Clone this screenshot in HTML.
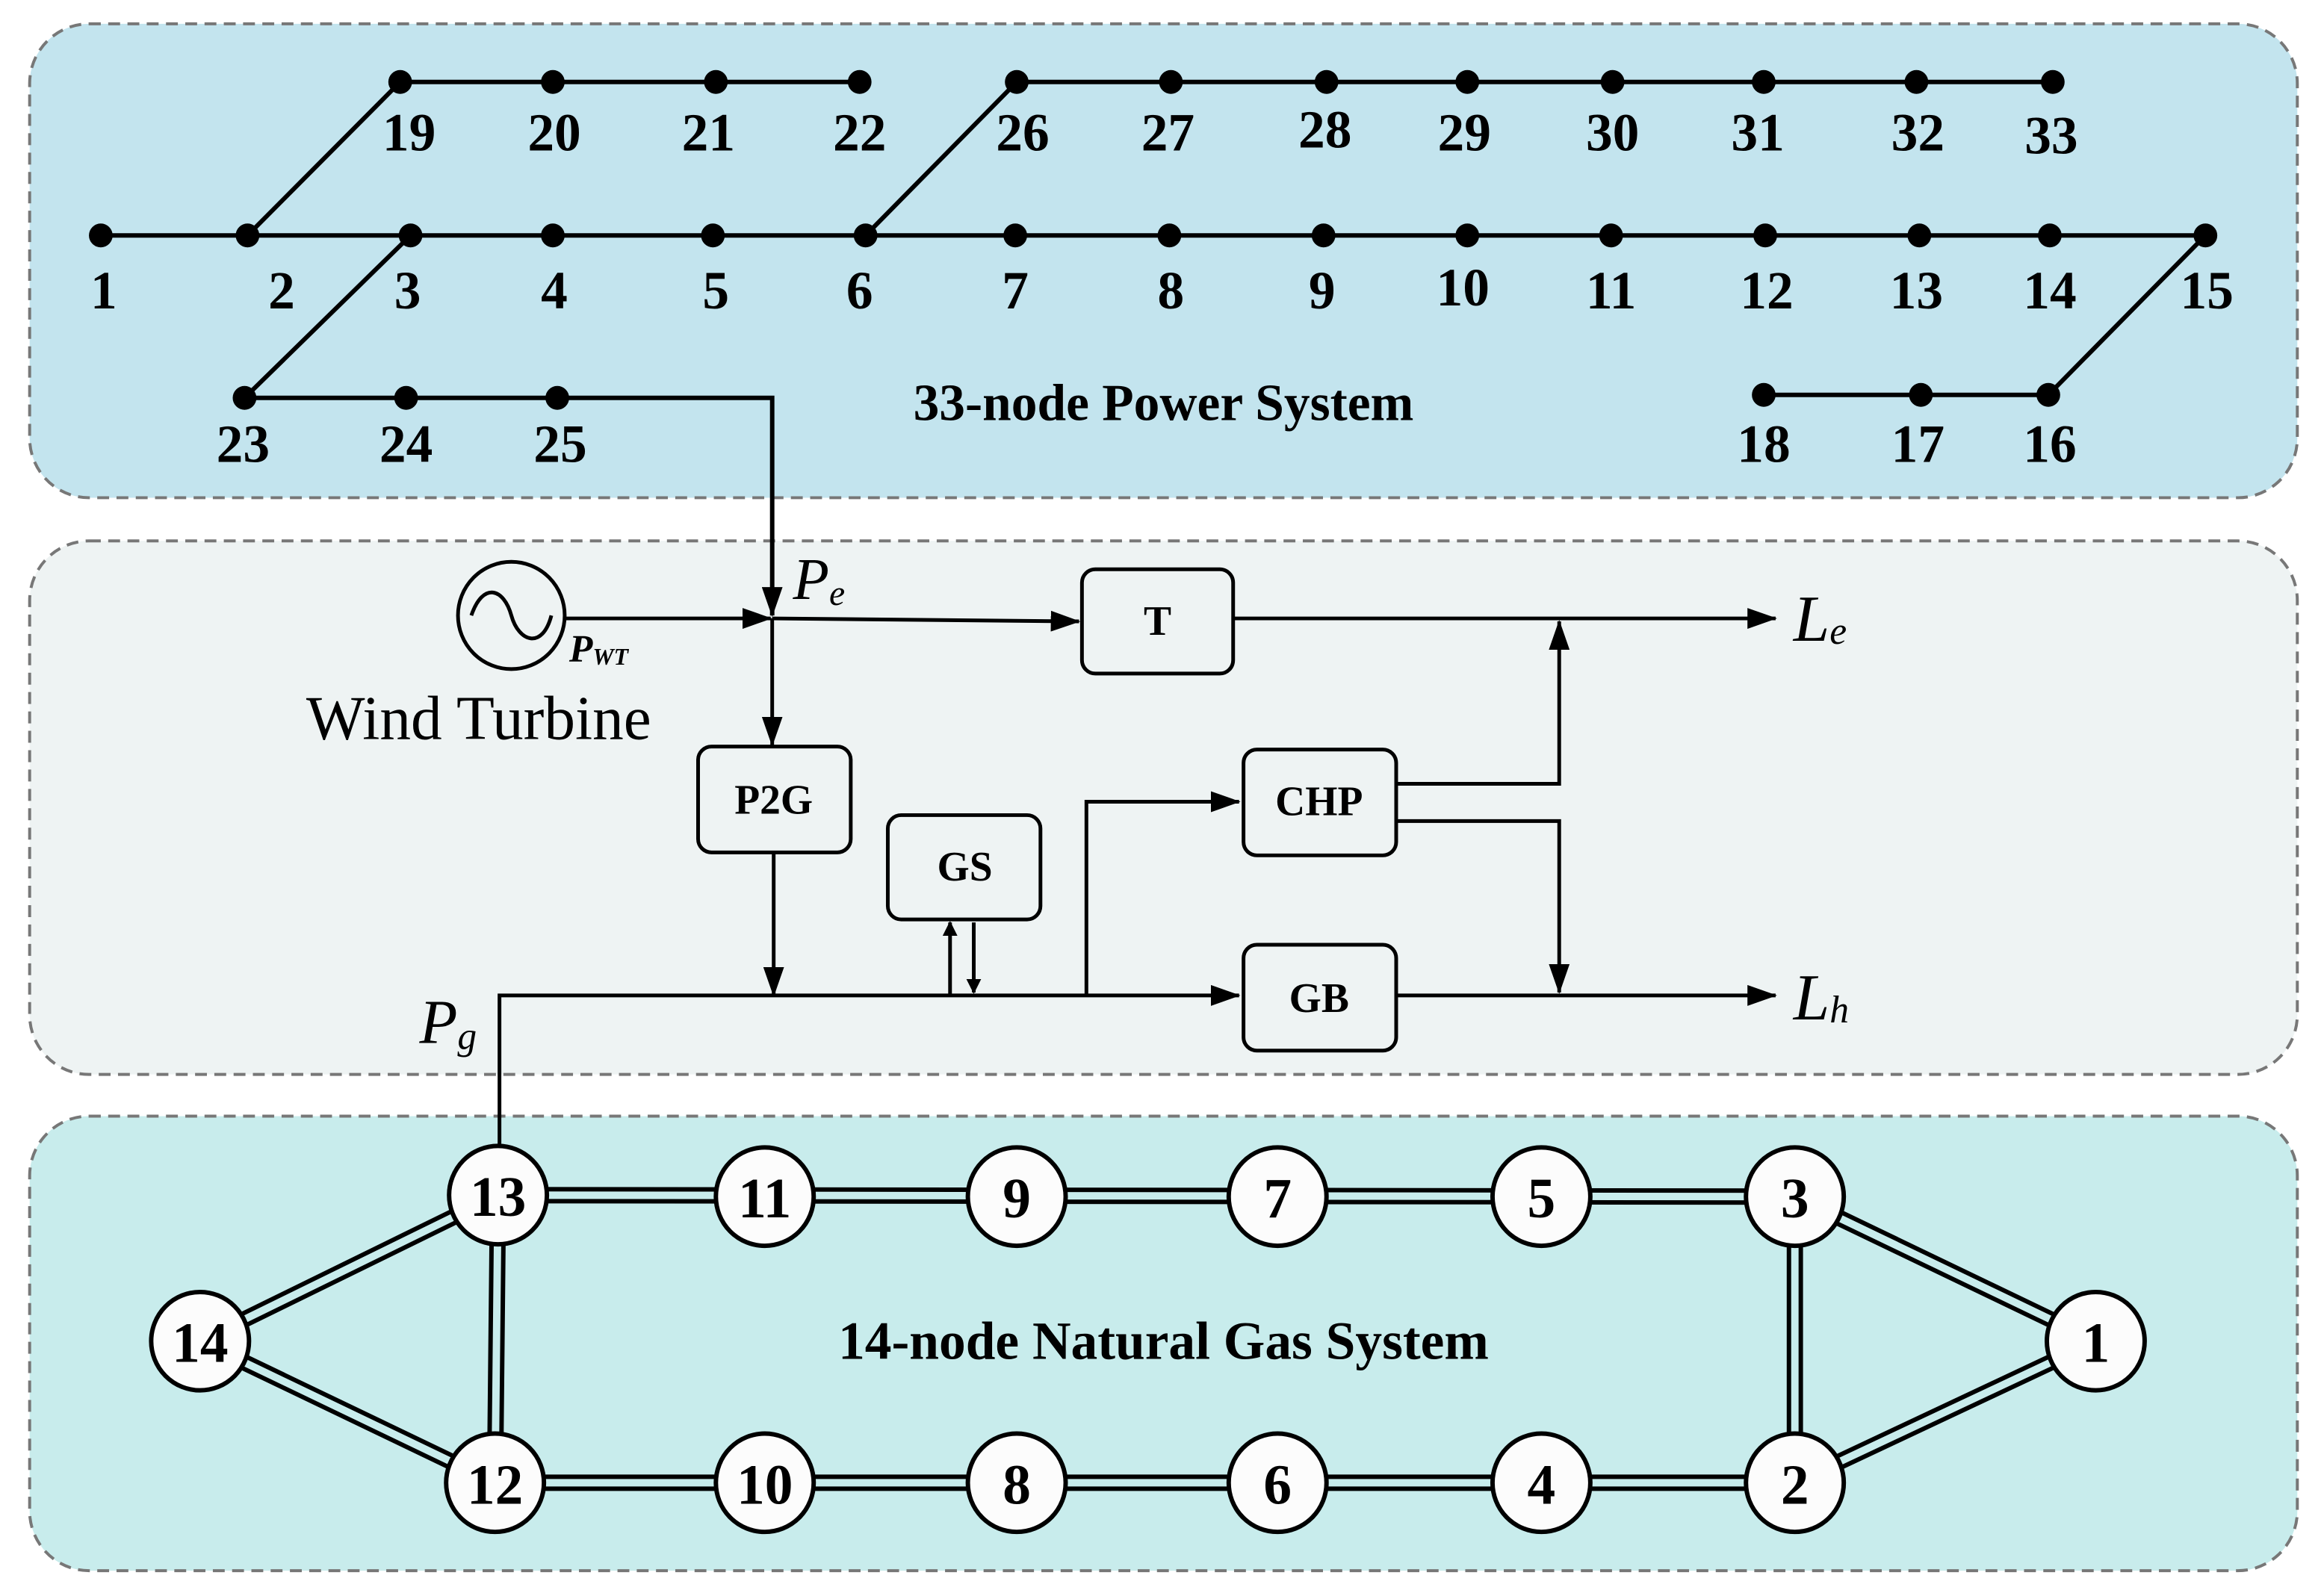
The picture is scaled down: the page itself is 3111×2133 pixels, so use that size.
<!DOCTYPE html>
<html><head><meta charset="utf-8"><style>
html,body{margin:0;padding:0;background:#fff;}
svg{display:block;}
text{font-family:"Liberation Serif",serif;}
.n{font-weight:bold;font-size:36px;text-anchor:middle;}
.g{font-weight:bold;font-size:38px;text-anchor:middle;}
.b{font-weight:bold;font-size:28px;text-anchor:middle;}
</style></head><body>
<svg width="3111" height="2133" viewBox="0 0 1568 1069" preserveAspectRatio="none" xmlns="http://www.w3.org/2000/svg">
<defs>
<marker id="a" markerWidth="10" markerHeight="10" refX="9" refY="5" orient="auto" markerUnits="userSpaceOnUse" viewBox="0 0 10 10"><path d="M0,0 L10,5 L0,10 z" fill="#000"/></marker>
<marker id="a2" markerWidth="20" markerHeight="14" refX="19" refY="7" orient="auto" markerUnits="userSpaceOnUse" viewBox="0 0 20 14"><path d="M0,0 L20,7 L0,14 z" fill="#000"/></marker>
</defs>
<rect x="20" y="16" width="1530" height="318" rx="40" fill="#c3e4ee" stroke="#777" stroke-width="2" stroke-dasharray="8,5"/>
<rect x="20" y="363" width="1530" height="358" rx="40" fill="#eef3f3" stroke="#777" stroke-width="2" stroke-dasharray="8,5"/>
<rect x="20" y="749" width="1530" height="305" rx="40" fill="#c8ecec" stroke="#777" stroke-width="2" stroke-dasharray="8,5"/>

<g stroke="#000" stroke-width="3" fill="none">
<line x1="270" y1="55" x2="580" y2="55"/>
<line x1="686" y1="55" x2="1385" y2="55"/>
<line x1="68" y1="158" x2="1488" y2="158"/>
<line x1="165" y1="267" x2="376" y2="267"/>
<line x1="1190" y1="265" x2="1382" y2="265"/>
<line x1="167" y1="158" x2="270" y2="55"/>
<line x1="277" y1="158" x2="165" y2="267"/>
<line x1="584" y1="158" x2="686" y2="55"/>
<line x1="1488" y1="158" x2="1382" y2="265"/>
<polyline points="376,267 521,267 521,413" marker-end="url(#a2)"/>
</g>
<g fill="#000">
<circle cx="270" cy="55" r="8"/><circle cx="373" cy="55" r="8"/><circle cx="483" cy="55" r="8"/><circle cx="580" cy="55" r="8"/>
<circle cx="686" cy="55" r="8"/><circle cx="790" cy="55" r="8"/><circle cx="895" cy="55" r="8"/><circle cx="990" cy="55" r="8"/><circle cx="1088" cy="55" r="8"/><circle cx="1190" cy="55" r="8"/><circle cx="1293" cy="55" r="8"/><circle cx="1385" cy="55" r="8"/>
<circle cx="68" cy="158" r="8"/><circle cx="167" cy="158" r="8"/><circle cx="277" cy="158" r="8"/><circle cx="373" cy="158" r="8"/><circle cx="481" cy="158" r="8"/><circle cx="584" cy="158" r="8"/><circle cx="685" cy="158" r="8"/><circle cx="789" cy="158" r="8"/><circle cx="893" cy="158" r="8"/><circle cx="990" cy="158" r="8"/><circle cx="1087" cy="158" r="8"/><circle cx="1191" cy="158" r="8"/><circle cx="1295" cy="158" r="8"/><circle cx="1383" cy="158" r="8"/><circle cx="1488" cy="158" r="8"/>
<circle cx="165" cy="267" r="8"/><circle cx="274" cy="267" r="8"/><circle cx="376" cy="267" r="8"/>
<circle cx="1190" cy="265" r="8"/><circle cx="1296" cy="265" r="8"/><circle cx="1382" cy="265" r="8"/>
</g>
<g class="n">
<text x="276" y="101">19</text><text x="374" y="101">20</text><text x="478" y="101">21</text><text x="580" y="101">22</text>
<text x="690" y="101">26</text><text x="788" y="101">27</text><text x="894" y="99">28</text><text x="988" y="101">29</text><text x="1088" y="101">30</text><text x="1186" y="101">31</text><text x="1294" y="101">32</text><text x="1384" y="103">33</text>
<text x="70" y="207">1</text><text x="190" y="207">2</text><text x="275" y="207">3</text><text x="374" y="207">4</text><text x="483" y="207">5</text><text x="580" y="207">6</text><text x="685" y="207">7</text><text x="790" y="207">8</text><text x="892" y="207">9</text><text x="987" y="205">10</text><text x="1087" y="207">11</text><text x="1192" y="207">12</text><text x="1293" y="207">13</text><text x="1383" y="207">14</text><text x="1489" y="207">15</text>
<text x="164" y="310">23</text><text x="274" y="310">24</text><text x="378" y="310">25</text>
<text x="1190" y="310">18</text><text x="1294" y="310">17</text><text x="1383" y="310">16</text>
</g>
<text x="785" y="282" style="font-weight:bold;font-size:35px;text-anchor:middle">33-node Power System</text>

<g stroke="#000" stroke-width="2.5" fill="none">
<circle cx="345" cy="413" r="36"/>
<path d="M318,413 C326,390 340,395 345,413 S366,436 372,413"/>
<line x1="381" y1="415" x2="520" y2="415" marker-end="url(#a2)"/>
<line x1="521" y1="415" x2="728" y2="417" marker-end="url(#a2)"/>
<line x1="521" y1="415" x2="521" y2="500" marker-end="url(#a2)"/>
<line x1="522" y1="572" x2="522" y2="668" marker-end="url(#a2)"/>
<line x1="832" y1="415" x2="1198" y2="415" marker-end="url(#a2)"/>
<polyline points="337,770 337,668 836,668" marker-end="url(#a2)"/>
<line x1="942" y1="668" x2="1198" y2="668" marker-end="url(#a2)"/>
<polyline points="733,668 733,538 836,538" marker-end="url(#a2)"/>
<polyline points="942,526 1052,526 1052,417" marker-end="url(#a2)"/>
<polyline points="942,551 1052,551 1052,666" marker-end="url(#a2)"/>
<line x1="641" y1="668" x2="641" y2="619" marker-end="url(#a)"/>
<line x1="657" y1="619" x2="657" y2="666" marker-end="url(#a)"/>
<rect x="730" y="382" width="102" height="70" rx="9" fill="#eef3f3"/>
<rect x="471" y="501" width="103" height="71" rx="9" fill="#eef3f3"/>
<rect x="599" y="547" width="103" height="70" rx="9" fill="#eef3f3"/>
<rect x="839" y="503" width="103" height="71" rx="9" fill="#eef3f3"/>
<rect x="839" y="634" width="103" height="71" rx="9" fill="#eef3f3"/>
</g>
<g class="b">
<text x="781" y="426">T</text><text x="522" y="546">P2G</text><text x="651" y="591">GS</text><text x="890" y="547">CHP</text><text x="890" y="679">GB</text>
</g>
<text x="535" y="402" style="font-style:italic;font-size:40px">P<tspan font-size="24" dy="4">e</tspan></text>
<text x="384" y="444" style="font-style:italic;font-weight:bold;font-size:26px">P<tspan font-size="16" dy="2">WT</tspan></text>
<text x="323" y="496" style="font-size:42px;text-anchor:middle">Wind Turbine</text>
<text x="1210" y="430" style="font-style:italic;font-size:44px">L<tspan font-size="26" dy="2">e</tspan></text>
<text x="1210" y="684" style="font-style:italic;font-size:44px">L<tspan font-size="26" dy="2">h</tspan></text>
<text x="283" y="700" style="font-style:italic;font-size:42px">P<tspan font-size="26" dy="4">g</tspan></text>

<g stroke="#000" stroke-width="11" fill="none">
<path d="M336,802 L1211,803 M334,995 L1211,995 M336,802 L334,995 M135,900 L336,802 M135,900 L334,995 M1211,803 L1211,995 M1211,803 L1414,900 M1211,995 L1414,900"/>
</g>
<g stroke="#c8ecec" stroke-width="5" fill="none">
<path d="M336,802 L1211,803 M334,995 L1211,995 M336,802 L334,995 M135,900 L336,802 M135,900 L334,995 M1211,803 L1211,995 M1211,803 L1414,900 M1211,995 L1414,900"/>
</g>
<g fill="#fcfcfc" stroke="#000" stroke-width="3">
<circle cx="336" cy="802" r="33"/><circle cx="516" cy="803" r="33"/><circle cx="686" cy="803" r="33"/><circle cx="862" cy="803" r="33"/><circle cx="1040" cy="803" r="33"/><circle cx="1211" cy="803" r="33"/>
<circle cx="135" cy="900" r="33"/><circle cx="1414" cy="900" r="33"/>
<circle cx="334" cy="995" r="33"/><circle cx="516" cy="995" r="33"/><circle cx="686" cy="995" r="33"/><circle cx="862" cy="995" r="33"/><circle cx="1040" cy="995" r="33"/><circle cx="1211" cy="995" r="33"/>
</g>
<g class="g">
<text x="336" y="816">13</text><text x="516" y="817">11</text><text x="686" y="817">9</text><text x="862" y="817">7</text><text x="1040" y="817">5</text><text x="1211" y="817">3</text>
<text x="135" y="914">14</text><text x="1414" y="914">1</text>
<text x="334" y="1009">12</text><text x="516" y="1009">10</text><text x="686" y="1009">8</text><text x="862" y="1009">6</text><text x="1040" y="1009">4</text><text x="1211" y="1009">2</text>
</g>
<text x="785" y="912" style="font-weight:bold;font-size:36px;text-anchor:middle">14-node Natural Gas System</text>
</svg>
</body></html>
